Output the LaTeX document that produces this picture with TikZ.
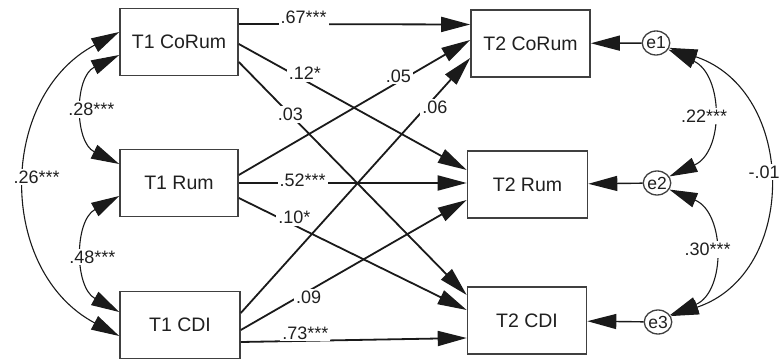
\documentclass[tikz,border=0pt]{standalone}
\usepackage{fontspec}
\setmainfont{Liberation Sans}
\usetikzlibrary{arrows.meta,shapes.geometric}
\definecolor{ink}{HTML}{1A1A1A}
\definecolor{boxgray}{HTML}{404040}
\definecolor{txt}{HTML}{202020}
\begin{document}
\begin{tikzpicture}[x=1pt,y=-1pt,
  box/.style={draw=boxgray, line width=1.6pt, minimum width=118pt, minimum height=67pt, inner sep=0pt, text=txt, font=\fontsize{19.5}{21}\selectfont},
  err/.style={ellipse, draw=boxgray, line width=1.3pt, minimum width=27pt, minimum height=24pt, inner sep=0pt, text=txt, font=\fontsize{17.5}{18}\selectfont},
  reg/.style={draw=ink, line width=1.8pt, -{Triangle[length=29pt,width=15pt]}},
  eline/.style={draw=ink, line width=1.4pt, -{Triangle[length=29pt,width=15pt]}},
  cov/.style={draw=ink, line width=1.1pt, {Triangle[length=28pt,width=15pt]}-{Triangle[length=28pt,width=15pt]}},
  lbl/.style={fill=white, inner sep=2pt, text=txt, font=\fontsize{18}{19}\selectfont},
]
\useasboundingbox[fill=white] (0,0) rectangle (783,363);

% observed variables
\node[box] (c1) at (179,42) {T1 CoRum};
\node[box] (r1) at (179,183) {T1 Rum};
\node[box, minimum width=120pt] (d1) at (180,325) {T1 CDI};
\node[box, minimum width=119pt] (c2) at (530.5,43.5) {T2 CoRum};
\node[box, minimum width=120pt] (r2) at (527.5,184.5) {T2 Rum};
\node[box, minimum width=119pt] (d2) at (527,320.5) {T2 CDI};

% errors
\node[err] (e1) at (656,43) {e1};
\node[err] (e2) at (657,183) {e2};
\node[err] (e3) at (658,322) {e3};

% regression paths
\draw[reg] ([yshift=18pt]c1.east) -- node[lbl, pos=0.28, yshift=7pt] {.67***} ([yshift=19pt]c2.west);
\draw[reg] ([yshift=-2pt]c1.east) -- node[lbl, pos=0.29, yshift=7pt] {.12*} ([yshift=14.5pt]r2.west);
\draw[reg] ([yshift=-20pt]c1.east) -- node[lbl, pos=0.226] {.03} ([yshift=25.5pt]d2.west);

\draw[reg] ([yshift=8pt]r1.east) -- node[lbl, pos=0.69, yshift=6pt] {.05} ([yshift=3.5pt]c2.west);
\draw[reg] (r1.east) -- node[lbl, pos=0.28, yshift=3pt] {.52***} ([yshift=1.5pt]r2.west);
\draw[reg] ([yshift=-15pt]r1.east) -- node[lbl, pos=0.2, xshift=10pt, yshift=3pt] {.10*} ([yshift=10.5pt]d2.west);

\draw[reg] ([yshift=12pt]d1.east) -- node[lbl, pos=0.816, xshift=7pt, yshift=-2pt] {.06} ([yshift=-14.5pt]c2.west);
\draw[reg] ([yshift=-5pt]d1.east) -- node[lbl, pos=0.3, yshift=-6pt] {.09} ([yshift=-15.5pt]r2.west);
\draw[reg] ([yshift=-17pt]d1.east) -- node[lbl, pos=0.286, yshift=8pt] {.73***} ([yshift=-17.5pt]d2.west);

% error paths
\draw[eline] (e1) -- (c2);
\draw[eline] (e2) -- (r2);
\draw[eline] (e3) -- (d2);

% covariances, left
\draw[cov] ([yshift=10pt]c1.west) .. controls +(-122,65) and +(-122,-65) .. node[lbl, pos=0.5, xshift=9pt, yshift=7pt] {.26***} ([yshift=-11pt]d1.west);
\draw[cov] ([yshift=-13pt]c1.west) .. controls +(-45,22) and +(-45,-22) .. node[lbl, pos=0.5, xshift=6pt] {.28***} ([yshift=19pt]r1.west);
\draw[cov] ([yshift=-13pt]r1.west) .. controls +(-45,25) and +(-45,-25) .. node[lbl, pos=0.5, xshift=7pt, yshift=-3pt] {.48***} ([yshift=13pt]d1.west);

% covariances, right
\draw[cov] (e1.-20) .. controls +(128,43) and +(128,-43) .. node[lbl, pos=0.5, xshift=-2pt, yshift=10pt] {-.01} (e3.25);
\draw[cov] (e1.-28) .. controls +(55,25) and +(55,-25) .. node[lbl, pos=0.5, xshift=-6pt, yshift=-3pt] {.22***} (e2.28);
\draw[cov] (e2.-28) .. controls +(56,23) and +(56,-23) .. node[lbl, pos=0.5, xshift=-4pt, yshift=3pt] {.30***} (e3.30);
\end{tikzpicture}
\end{document}
